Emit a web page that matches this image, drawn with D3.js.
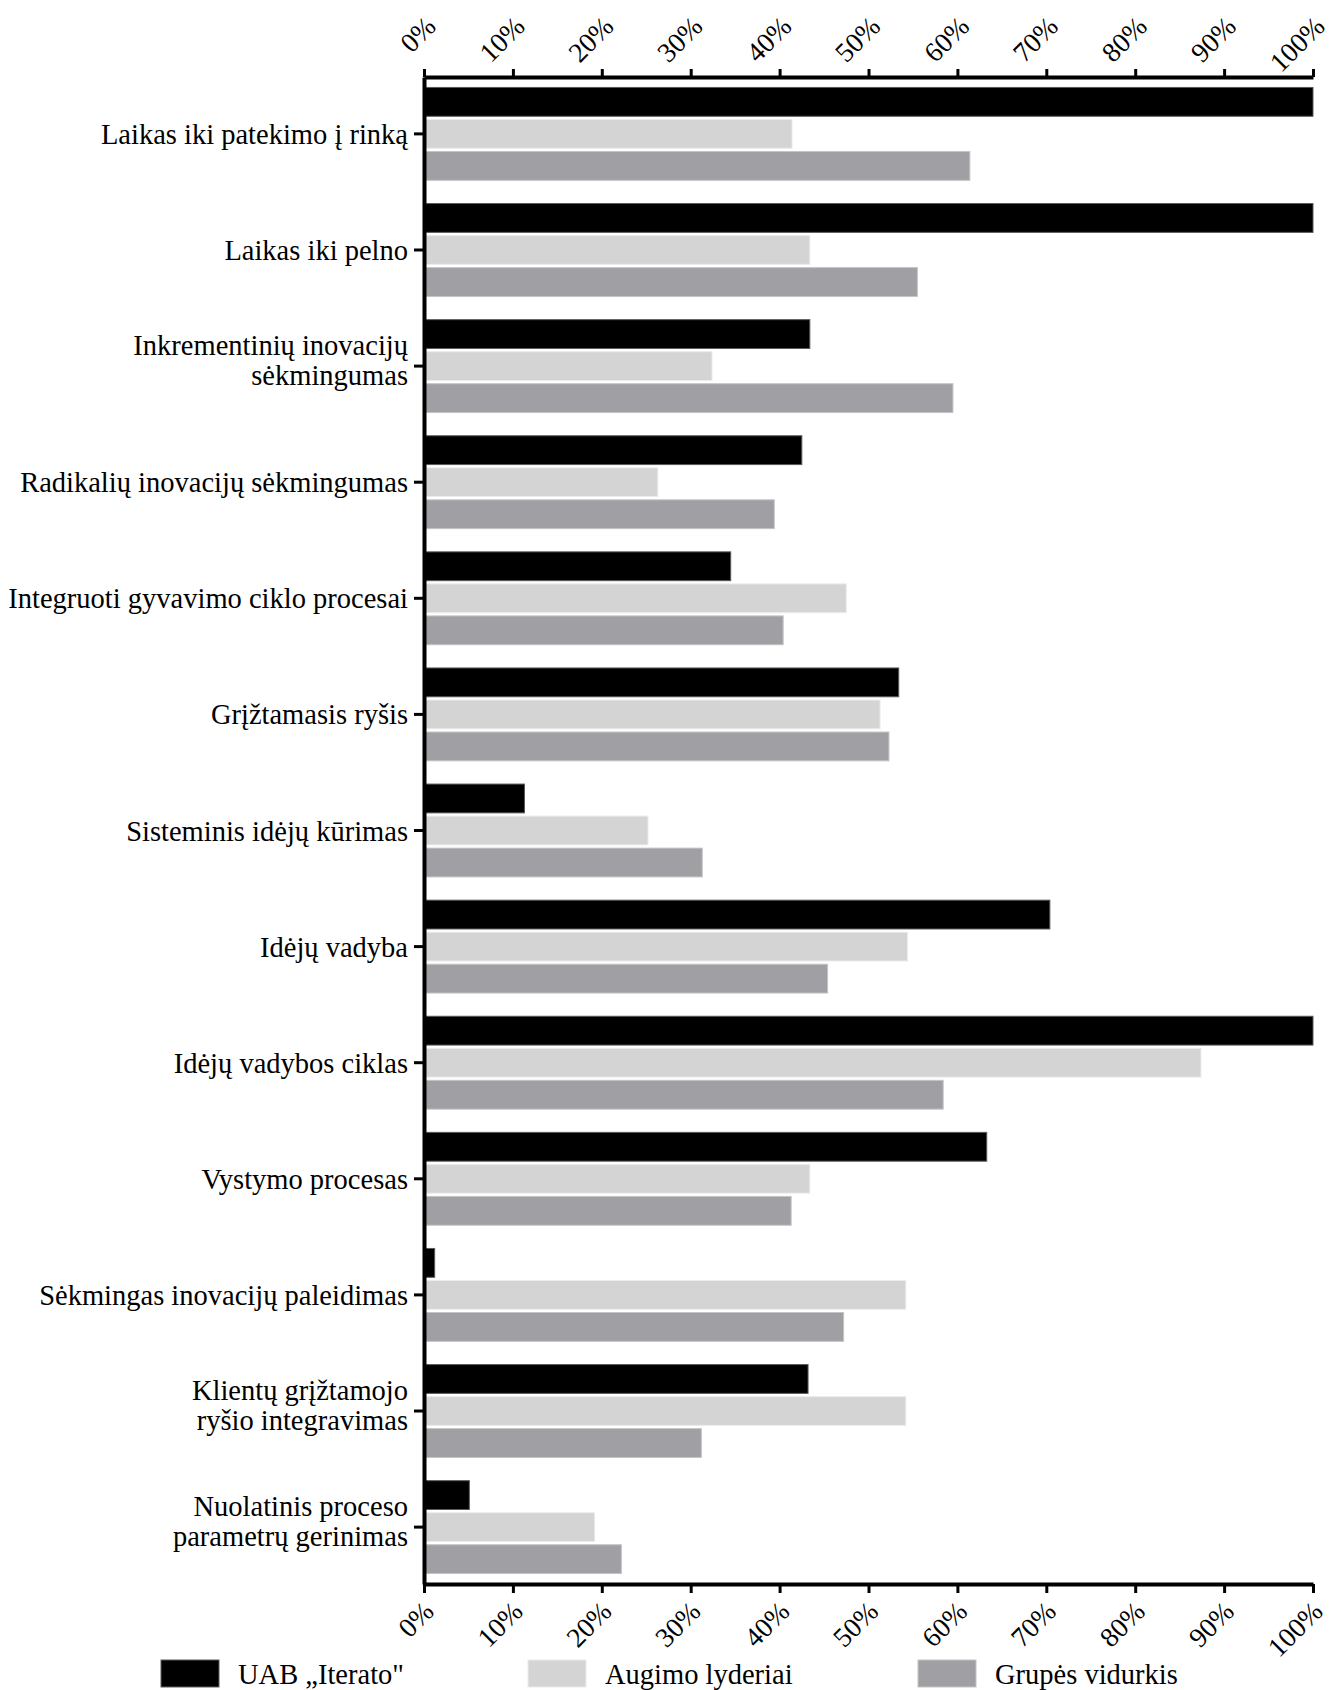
<!DOCTYPE html>
<html>
<head>
<meta charset="utf-8">
<script src="https://cdn.jsdelivr.net/npm/d3@7"></script>
<style>
  html, body { margin: 0; padding: 0; background: #fff; }
  svg { display: block; }
  text { font-family: "Liberation Serif", "Times New Roman", serif; fill: #000; }
</style>
</head>
<body>
<svg id="chart" width="1333" height="1690"></svg>
<script>
// ---------- DATA ----------
const categories = [
  "Laikas iki patekimo į rinką",
  "Laikas iki pelno",
  "Inkrementinių inovacijų\nsėkmingumas",
  "Radikalių inovacijų sėkmingumas",
  "Integruoti gyvavimo ciklo procesai",
  "Grįžtamasis ryšis",
  "Sisteminis idėjų kūrimas",
  "Idėjų vadyba",
  "Idėjų vadybos ciklas",
  "Vystymo procesas",
  "Sėkmingas inovacijų paleidimas",
  "Klientų grįžtamojo\nryšio integravimas",
  "Nuolatinis proceso\nparametrų gerinimas"
];
const seriesNames = ["UAB „Iterato\"", "Augimo lyderiai", "Grupės vidurkis"];
const uabIterato     = [100, 100, 43.4, 42.5, 34.5, 53.4, 11.3, 70.4, 100, 63.3, 1.2, 43.2, 5.1];
const augimoLyderiai = [41.4, 43.4, 32.4, 26.3, 47.5, 51.3, 25.2, 54.4, 87.4, 43.4, 54.2, 54.2, 19.2];
const grupesVidurkis = [61.4, 55.5, 59.5, 39.4, 40.4, 52.3, 31.3, 45.4, 58.4, 41.3, 47.2, 31.2, 22.2];
const tickValues = [0, 10, 20, 30, 40, 50, 60, 70, 80, 90, 100];
const tickLabels = ["0%", "10%", "20%", "30%", "40%", "50%", "60%", "70%", "80%", "90%", "100%"];

(function () {
// ---------- SETUP ----------
const svg = d3.select("#chart");
const pLeft = 424, pRight = 1313, pTop = 77, pBottom = 1584;
const colors = ["#000000", "#d4d4d4", "#a09fa4"];
const strokes = ["#5a5a5a", "#ececec", "#c4c4c4"];
const seriesValues = [uabIterato, augimoLyderiai, grupesVidurkis];

const x = d3.scaleLinear().domain([0, 100]).range([pLeft, pRight]);
const y = d3.scaleBand().domain(categories).range([pTop, pBottom])
  .paddingInner(0.2).paddingOuter(0.09);
const ys = d3.scaleBand().domain(seriesNames).range([0, y.bandwidth()]).paddingInner(0.1);

// ---------- BARS ----------
const rows = categories.map((c, i) => ({
  cat: c,
  vals: seriesNames.map((s, k) => ({ s, k, v: seriesValues[k][i] }))
}));

const groups = svg.append("g").selectAll("g").data(rows).join("g")
  .attr("transform", d => `translate(0,${y(d.cat)})`);
groups.selectAll("rect").data(d => d.vals).join("rect")
  .attr("x", x(0))
  .attr("y", d => ys(d.s))
  .attr("width", d => Math.max(0, x(d.v) - x(0)))
  .attr("height", ys.bandwidth())
  .attr("fill", d => colors[d.k])
  .attr("stroke", d => strokes[d.k])
  .attr("stroke-width", 1);

// ---------- AXES ----------
const fmt = d => tickLabels[tickValues.indexOf(d)];

const topAxis = svg.append("g").attr("transform", `translate(0,${pTop})`)
  .call(d3.axisTop(x).tickValues(tickValues).tickFormat(fmt).tickSize(8).tickSizeOuter(0));
const botAxis = svg.append("g").attr("transform", `translate(0,${pBottom})`)
  .call(d3.axisBottom(x).tickValues(tickValues).tickFormat(fmt).tickSize(9).tickSizeOuter(0));
const leftAxis = svg.append("g").attr("transform", `translate(${pLeft},0)`)
  .call(d3.axisLeft(y).tickSize(10).tickSizeOuter(0).tickFormat(""));

[topAxis, botAxis, leftAxis].forEach(g => {
  g.select(".domain").attr("stroke", "#000").attr("stroke-width", 4);
  g.selectAll(".tick line").attr("stroke", "#000").attr("stroke-width", 3);
});

topAxis.selectAll(".tick text")
  .attr("x", 0).attr("y", 0).attr("dy", 0)
  .attr("text-anchor", "end")
  .attr("transform", "translate(13,-49) rotate(-45)")
  .style("font-family", "'Liberation Serif', 'Times New Roman', serif")
  .style("font-size", "27.5px").attr("fill", "#000");

botAxis.selectAll(".tick text")
  .attr("x", 0).attr("y", 0).attr("dy", 0)
  .attr("text-anchor", "end")
  .attr("transform", "translate(11,29) rotate(-45)")
  .style("font-family", "'Liberation Serif', 'Times New Roman', serif")
  .style("font-size", "27.5px").attr("fill", "#000");

// category labels
const labels = svg.append("g");
categories.forEach(c => {
  const lines = c.split("\n");
  const cy = y(c) + y.bandwidth() / 2;
  const t = labels.append("text")
    .attr("text-anchor", "end")
    .attr("font-size", 28.5);
  if (lines.length === 1) {
    t.append("tspan").attr("x", pLeft - 16).attr("y", cy + 10).text(lines[0]);
  } else {
    t.append("tspan").attr("x", pLeft - 16).attr("y", cy - 11).text(lines[0]);
    t.append("tspan").attr("x", pLeft - 16).attr("y", cy + 19).text(lines[1]);
  }
});

// ---------- LEGEND ----------
const legendX = [161, 528, 918];
const legend = svg.append("g");
seriesNames.forEach((s, k) => {
  legend.append("rect")
    .attr("x", legendX[k]).attr("y", 1660)
    .attr("width", 58).attr("height", 27)
    .attr("fill", colors[k]).attr("stroke", strokes[k]).attr("stroke-width", 1);
  legend.append("text")
    .attr("x", legendX[k] + 77).attr("y", 1684)
    .attr("font-size", 28.5)
    .text(s);
});
})();
</script>
</body>
</html>
